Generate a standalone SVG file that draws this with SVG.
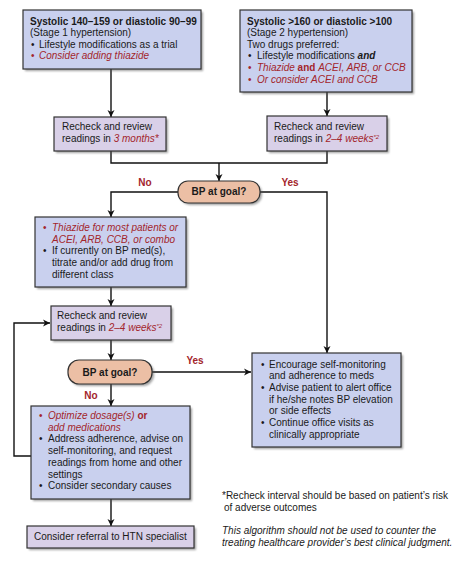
<svg xmlns="http://www.w3.org/2000/svg" width="455" height="563" viewBox="0 0 455 563">
<style>
text{font-family:"Liberation Sans",Arial,sans-serif;font-size:10px;fill:#1a1a1a}
.b{font-weight:bold}
.r{fill:#a3252b}
.i{font-style:italic}
.lbl{font-weight:bold;fill:#a3252b;font-size:10px}
.blue{fill:#c9d0ee;stroke:#333;stroke-width:1.2}
.purp{fill:#d9d0e8;stroke:#333;stroke-width:1.2}
.pill{fill:#ecbfa5;stroke:#333;stroke-width:1.2}
.sh{fill:#555;opacity:.55;filter:url(#blur)}
.ln{fill:none;stroke:#111;stroke-width:1.4;marker-end:url(#ah)}
.ln0{fill:none;stroke:#111;stroke-width:1.4}
.sup{font-size:6px}
</style>
<defs>
<filter id="blur" x="-10%" y="-10%" width="120%" height="130%"><feGaussianBlur stdDeviation="1"/></filter>
<marker id="ah" markerWidth="8" markerHeight="8" refX="7" refY="4" orient="auto" markerUnits="userSpaceOnUse"><path d="M0,0.5 L7,4 L0,7.5 L2,4 Z" fill="#111"/></marker>
</defs>
<rect width="455" height="563" fill="#fff"/>

<g id="connectors">
<path class="ln" d="M111,69 V117"/>
<path class="ln" d="M327,92 V116"/>
<path class="ln0" d="M111,151 V163 H327 V151"/>
<path class="ln" d="M219,163 V181"/>
<path class="ln" d="M178,192 H111 V217"/>
<path class="ln" d="M260,192 H327 V353"/>
<path class="ln" d="M111,287 V306"/>
<path class="ln" d="M111,340 V360"/>
<path class="ln" d="M152,372 H251"/>
<path class="ln" d="M111,384 V406"/>
<path class="ln" d="M31,456 H14 V323 H50"/>
<path class="ln" d="M111,499 V526"/>
<text class="lbl" x="145" y="186" text-anchor="middle">No</text>
<text class="lbl" x="290" y="186" text-anchor="middle">Yes</text>
<text class="lbl" x="195" y="364" text-anchor="middle">Yes</text>
<text class="lbl" x="91" y="399" text-anchor="middle">No</text>
</g>

<g id="stage1">
<rect class="sh" x="25" y="12" width="178" height="59"/>
<rect class="blue" x="23" y="10" width="178" height="59"/>
<text x="30" y="25" class="b">Systolic 140–159 or diastolic 90–99</text>
<text x="30" y="36">(Stage 1 hypertension)</text>
<text x="31" y="48">•</text><text x="39" y="48">Lifestyle modifications as a trial</text>
<text x="31" y="59" class="r">•</text><text x="39" y="59" class="r i">Consider adding thiazide</text>
</g>

<g id="stage2">
<rect class="sh" x="242" y="12" width="172" height="82"/>
<rect class="blue" x="240" y="10" width="172" height="82"/>
<text x="247" y="25" class="b">Systolic &gt;160 or diastolic &gt;100</text>
<text x="247" y="36">(Stage 2 hypertension)</text>
<text x="247" y="48">Two drugs preferred:</text>
<text x="248" y="59">•</text><text x="257" y="59">Lifestyle modifications <tspan class="b i">and</tspan></text>
<text x="248" y="71" class="r">•</text><text x="257" y="71" class="r"><tspan class="i">Thiazide</tspan> <tspan class="b">and</tspan> <tspan class="i">ACEI, ARB, or CCB</tspan></text>
<text x="248" y="83" class="r">•</text><text x="257" y="83" class="r i">Or consider ACEI and CCB</text>
</g>

<g id="recheck1">
<rect class="sh" x="56" y="119" width="112" height="34"/>
<rect class="purp" x="54" y="117" width="112" height="34"/>
<text x="62" y="130">Recheck and review</text>
<text x="62" y="142">readings in <tspan class="r i">3 months*</tspan></text>
</g>

<g id="recheck2">
<rect class="sh" x="269" y="118" width="120" height="35"/>
<rect class="purp" x="267" y="116" width="120" height="35"/>
<text x="274" y="130">Recheck and review</text>
<text x="274" y="142">readings in <tspan class="r i">2–4 weeks<tspan class="sup" dy="-3">*2</tspan></tspan></text>
</g>

<g id="goal1">
<rect class="sh" x="180" y="183" width="82" height="22" rx="10"/>
<rect class="pill" x="178" y="181" width="82" height="22" rx="10"/>
<text x="219" y="195" class="b" text-anchor="middle">BP at goal?</text>
</g>

<g id="treat">
<rect class="sh" x="37" y="219" width="151" height="70"/>
<rect class="blue" x="35" y="217" width="151" height="70"/>
<text x="43" y="231" class="r">•</text><text x="52" y="231" class="r i">Thiazide for most patients or</text>
<text x="52" y="243" class="r i">ACEI, ARB, CCB, or combo</text>
<text x="43" y="254">•</text><text x="52" y="254">If currently on BP med(s),</text>
<text x="52" y="266">titrate and/or add drug from</text>
<text x="52" y="278">different class</text>
</g>

<g id="recheck3">
<rect class="sh" x="53" y="308" width="120" height="34"/>
<rect class="purp" x="51" y="306" width="120" height="34"/>
<text x="57" y="319">Recheck and review</text>
<text x="57" y="331">readings in <tspan class="r i">2–4 weeks<tspan class="sup" dy="-3">*2</tspan></tspan></text>
</g>

<g id="goal2">
<rect class="sh" x="70" y="362" width="84" height="24" rx="11"/>
<rect class="pill" x="68" y="360" width="84" height="24" rx="11"/>
<text x="110" y="376" class="b" text-anchor="middle">BP at goal?</text>
</g>

<g id="optimize">
<rect class="sh" x="33" y="408" width="159" height="93"/>
<rect class="blue" x="31" y="406" width="159" height="93"/>
<text x="39" y="419" class="r">•</text><text x="48" y="419" class="r"><tspan class="i">Optimize dosage(s)</tspan> <tspan class="b">or</tspan></text>
<text x="48" y="431" class="r i">add medications</text>
<text x="39" y="442">•</text><text x="48" y="442">Address adherence, advise on</text>
<text x="48" y="454">self-monitoring, and request</text>
<text x="48" y="466">readings from home and other</text>
<text x="48" y="478">settings</text>
<text x="39" y="489">•</text><text x="48" y="489">Consider secondary causes</text>
</g>

<g id="referral">
<rect class="sh" x="29" y="528" width="167" height="22"/>
<rect class="purp" x="27" y="526" width="167" height="22"/>
<text x="34" y="540">Consider referral to HTN specialist</text>
</g>

<g id="atgoal">
<rect class="sh" x="254" y="355" width="149" height="94"/>
<rect class="blue" x="252" y="353" width="149" height="94"/>
<text x="261" y="368">•</text><text x="269" y="368">Encourage self-monitoring</text>
<text x="269" y="379">and adherence to meds</text>
<text x="261" y="391">•</text><text x="269" y="391">Advise patient to alert office</text>
<text x="269" y="403">if he/she notes BP elevation</text>
<text x="269" y="414">or side effects</text>
<text x="261" y="426">•</text><text x="269" y="426">Continue office visits as</text>
<text x="269" y="438">clinically appropriate</text>
</g>

<g id="notes">
<text x="222" y="499">*Recheck interval should be based on patient’s risk</text>
<text x="224" y="511">of adverse outcomes</text>
<text x="222" y="534" class="i">This algorithm should not be used to counter the</text>
<text x="222" y="546" class="i">treating healthcare provider’s best clinical judgment.</text>
</g>
</svg>
